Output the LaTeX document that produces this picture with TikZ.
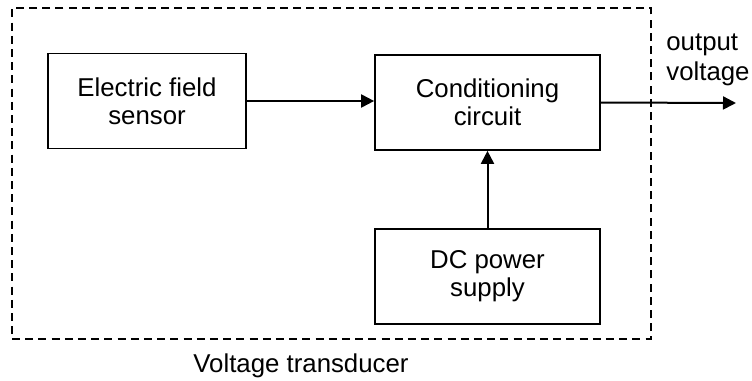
\documentclass[tikz,border=0pt]{standalone}
\usepackage{fontspec}
\setmainfont{Liberation Sans}
\usetikzlibrary{arrows.meta}
\begin{document}
\begin{tikzpicture}[x=0.5pt,y=-0.5pt,
  blk/.style={draw,line width=0.85pt,minimum width=#1*0.5pt,minimum height=47.5pt,inner sep=0pt,align=center,font=\fontsize{12.9}{14}\selectfont},
  conn/.style={line width=1pt,-{Triangle[length=6.5pt,width=6.5pt]}},
  lbl/.style={inner sep=0pt,font=\fontsize{12.9}{15}\selectfont}]
\useasboundingbox (0,0) rectangle (752,381);
\node[draw,dashed,dash pattern=on 4pt off 2.6pt,line width=0.65pt,minimum width=319.5pt,minimum height=165.5pt,inner sep=0pt] (frame) at (331.5,173.5) {};
\node[blk=198] (sensor) at (147,101) {Electric field\\sensor};
\node[blk=225] (cond) at (487.5,102.5) {Conditioning\\circuit};
\node[blk=225] (dc) at (487.5,276.5) {DC power\\supply};
\coordinate (out) at (736,103);
\draw[conn] (sensor.east) -- (sensor.east -| cond.west);
\draw[conn] (cond.east) -- (out);
\draw[conn] (dc.north) -- (cond.south);
\node[lbl,align=left,anchor=north west] (outlbl) at (666,33) {output\\voltage};
\node[lbl,anchor=base] (title) at (301,372) {Voltage transducer};
\end{tikzpicture}
\end{document}
